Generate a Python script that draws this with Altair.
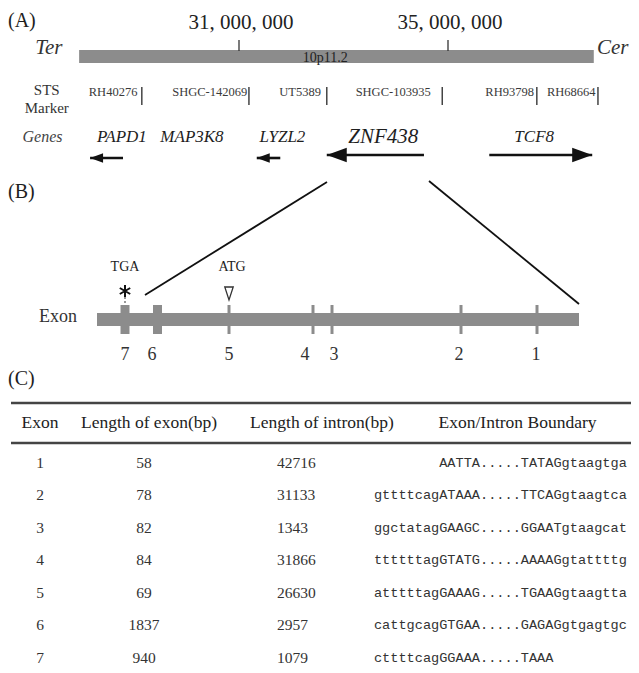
import altair as alt
import pandas as pd

# ---------------- data ----------------
# Panel A: chromosome 10p11.2 region (genomic positions in Mb)
chrom_band = "10p11.2"
chrom_start_mb = 27.94
chrom_end_mb = 37.79
band_label_mb = 32.65
scale_ticks_mb = [31, 35]
scale_tick_labels = ["31, 000, 000", "35, 000, 000"]
chrom_ends = ["Ter", "Cer"]
chrom_end_label_mb = [27.10, 37.85]

sts_markers = ["RH40276", "SHGC-142069", "UT5389", "SHGC-103935", "RH93798", "RH68664"]
sts_marker_mb = [29.14, 31.19, 32.68, 34.89, 36.70, 37.87]
sts_label_mb = [28.59, 30.44, 32.17, 33.95, 36.18, 37.36]

genes = ["PAPD1", "MAP3K8", "LYZL2", "ZNF438", "TCF8"]
gene_label_mb = [28.76, 30.10, 31.83, 33.76, 36.65]
arrow_genes = ["PAPD1", "LYZL2", "ZNF438", "TCF8"]
arrow_strand = ["-", "-", "-", "+"]
arrow_start_mb = [28.15, 31.34, 32.68, 35.79]
arrow_end_mb = [28.78, 31.79, 34.54, 37.76]

# Panel B / C: ZNF438 exons
exon_ids = [1, 2, 3, 4, 5, 6, 7]
exon_len = [58, 78, 82, 84, 69, 1837, 940]
intron_len = [42716, 31133, 1343, 31866, 26630, 2957, 1079]
boundary = [
    "AATTA.....TATAGgtaagtga",
    "gttttcagATAAA.....TTCAGgtaagtca",
    "ggctatagGAAGC.....GGAATgtaagcat",
    "ttttttagGTATG.....AAAAGgtattttg",
    "atttttagGAAAG.....TGAAGgtaagtta",
    "cattgcagGTGAA.....GAGAGgtgagtgc",
    "cttttcagGGAAA.....TAAA",
]
exon_map_pos = [537, 461, 332, 313, 229, 157.5, 125]     # diagram position (not to scale)
exon_label_pos = [536, 459, 334, 305, 229, 152, 125]
codons = ["TGA", "ATG"]
codon_exon = [7, 5]
headers = ["Exon", "Length of exon(bp)", "Length of intron(bp)", "Exon/Intron Boundary"]
panel_labels = ["(A)", "(B)", "(C)"]

# ---------------- layout ----------------
W, H = 623, 657
FONT = "Liberation Serif"
MONO = "Liberation Mono"
INK = "#1e1e1e"
GREY = "#8c8c8c"

px_x = alt.Scale(domain=[8, 631])
px_y = alt.Scale(domain=[8, 665], reverse=True)
mb_x = alt.Scale(domain=[26.57895, 38.50239])
row_y = alt.Scale(domain=[-13.034, 7.231], reverse=True)


def xq(f, s):
    return alt.X(f"{f}:Q", scale=s, axis=None)


def yq(f, s):
    return alt.Y(f"{f}:Q", scale=s, axis=None)


def txt(df, x, y, xs, ys, text="label", **mk):
    base = dict(font=FONT, color=INK, baseline="middle")
    base.update(mk)
    return alt.Chart(df).mark_text(**base).encode(
        x=xq(x, xs), y=yq(y, ys), text=f"{text}:N")


layers = []

# panel labels
layers.append(txt(pd.DataFrame({"label": panel_labels, "x": [8, 8, 8], "y": [21, 192, 379]}),
                  "x", "y", px_x, px_y, fontSize=20, align="left"))

# ---- Panel A ----
chrom = pd.DataFrame({"start": [chrom_start_mb], "end": [chrom_end_mb], "top": [50], "bot": [63],
                      "band": [chrom_band], "bx": [band_label_mb], "by": [58]})
layers.append(alt.Chart(chrom).mark_rect(color=GREY).encode(
    x=xq("start", mb_x), x2="end", y=yq("top", px_y), y2="bot"))
layers.append(txt(chrom, "bx", "by", mb_x, px_y, text="band", fontSize=14, color="#222"))

ticks = pd.DataFrame({"mb": scale_ticks_mb, "label": scale_tick_labels,
                      "y0": 40, "y1": 51, "ly": 23})
layers.append(alt.Chart(ticks).mark_rule(color="#333", strokeWidth=1.3).encode(
    x=xq("mb", mb_x), y=yq("y0", px_y), y2="y1"))
layers.append(txt(ticks, "mb", "ly", mb_x, px_y, fontSize=21, dx=2, color="#222"))

ends = pd.DataFrame({"label": chrom_ends, "mb": chrom_end_label_mb, "y": 48})
layers.append(txt(ends, "mb", "y", mb_x, px_y, fontSize=21, fontStyle="italic",
                  align="left", color="#333"))

sts_title = pd.DataFrame({"label": ["STS", "Marker"], "mb": [27.32, 27.32], "y": [90, 108]})
layers.append(txt(sts_title, "mb", "y", mb_x, px_y, fontSize=15, color="#333"))

sts = pd.DataFrame({"label": sts_markers, "mb": sts_marker_mb, "lmb": sts_label_mb,
                    "y0": 87, "y1": 105, "ly": 92})
layers.append(alt.Chart(sts).mark_rule(color="#444", strokeWidth=1.5).encode(
    x=xq("mb", mb_x), y=yq("y0", px_y), y2="y1"))
layers.append(txt(sts, "lmb", "ly", mb_x, px_y, fontSize=12.5, color="#3a3a3a"))

layers.append(txt(pd.DataFrame({"label": ["Genes"], "mb": [27.24], "y": [137]}),
                  "mb", "y", mb_x, px_y, fontSize=16, fontStyle="italic", color="#444"))
gdf = pd.DataFrame({"label": genes, "mb": gene_label_mb, "y": 137})
layers.append(alt.Chart(gdf).mark_text(font=FONT, fontStyle="italic", color=INK, baseline="middle").encode(
    x=xq("mb", mb_x), y=yq("y", px_y), text="label:N",
    size=alt.condition(alt.datum.label == "ZNF438", alt.value(21), alt.value(17))))

arrows = pd.DataFrame({"gene": arrow_genes, "strand": arrow_strand,
                       "start": arrow_start_mb, "end": arrow_end_mb})
arrows["y"] = [158, 158, 155, 155]
arrows["tip"] = [s if d == "-" else e for s, e, d in zip(arrows.start, arrows.end, arrows.strand)]
layers.append(alt.Chart(arrows).mark_rule(color="#111", strokeWidth=2.6).encode(
    x=xq("start", mb_x), x2="end", y=yq("y", px_y)))
big = (alt.datum.gene == "ZNF438") | (alt.datum.gene == "TCF8")
for strand, shape in [("-", "M0,0L2,-0.72L2,0.72Z"), ("+", "M0,0L-2,-0.72L-2,0.72Z")]:
    layers.append(alt.Chart(arrows).transform_filter(alt.datum.strand == strand).mark_point(
        shape=shape, filled=True, color="#111", opacity=1, strokeWidth=0).encode(
        x=xq("tip", mb_x), y=yq("y", px_y),
        size=alt.condition(big, alt.value(400), alt.value(169))))

# ---- Panel B ----
zoom = pd.DataFrame({"x0": [327, 429], "y0": [182, 181], "x1": [145, 579], "y1": [295, 304]})
layers.append(alt.Chart(zoom).mark_rule(color="#111", strokeWidth=1.8).encode(
    x=xq("x0", px_x), x2="x1", y=yq("y0", px_y), y2="y1"))

gene_bar = pd.DataFrame({"x0": [97], "x1": [579], "y0": [313], "y1": [326]})
layers.append(alt.Chart(gene_bar).mark_rect(color=GREY).encode(
    x=xq("x0", px_x), x2="x1", y=yq("y0", px_y), y2="y1"))

ex = pd.DataFrame({"exon": exon_ids, "len": exon_len, "pos": exon_map_pos,
                   "lpos": exon_label_pos, "y0": 305, "y1": 334, "ly": 355})
layers.append(alt.Chart(ex).transform_calculate(
    a="datum.pos - (datum.len > 500 ? 4.5 : 1.5)",
    b="datum.pos + (datum.len > 500 ? 4.5 : 1.5)").mark_rect(color=GREY).encode(
    x=xq("a", px_x), x2="b", y=yq("y0", px_y), y2="y1"))
layers.append(txt(ex, "lpos", "ly", px_x, px_y, text="exon", fontSize=18, color="#333"))
layers.append(txt(pd.DataFrame({"label": ["Exon"], "x": [58], "y": [317]}),
                  "x", "y", px_x, px_y, fontSize=18, color="#333"))

cod = pd.DataFrame({"label": codons, "exon": codon_exon})
cod["pos"] = [exon_map_pos[exon_ids.index(e)] for e in codon_exon]
cod["y"] = 267
cod["dx"] = [0, 3]
layers.append(alt.Chart(cod).mark_text(font=FONT, fontSize=14, color="#222", baseline="middle").encode(
    x=alt.X("px:Q", scale=px_x, axis=None), y=yq("y", px_y), text="label:N").transform_calculate(
    px="datum.pos + datum.dx"))

stop = cod[cod.label == "TGA"].copy()
stop["sy"] = 291
stop["d0"] = 297
stop["d1"] = 305
layers.append(alt.Chart(stop).mark_point(
    shape="M0,-1L0,1M-0.87,-0.5L0.87,0.5M-0.87,0.5L0.87,-0.5",
    filled=False, stroke="#111", strokeWidth=2, size=144, opacity=1).encode(
    x=xq("pos", px_x), y=yq("sy", px_y)))
layers.append(alt.Chart(stop).mark_rule(color="#555", strokeWidth=1.2, strokeDash=[2, 2]).encode(
    x=xq("pos", px_x), y=yq("d0", px_y), y2="d1"))

start = cod[cod.label == "ATG"].copy()
start["ty"] = 293.5
layers.append(alt.Chart(start).mark_point(
    shape="M-0.65,-1L0.65,-1L0,1Z", filled=False, stroke="#333", strokeWidth=1.3,
    size=169, opacity=1).encode(x=xq("pos", px_x), y=yq("ty", px_y)))

# ---- Panel C: table ----
rules = pd.DataFrame({"x0": [11, 11], "x1": [640, 640], "y": [403, 443]})
layers.append(alt.Chart(rules).mark_rule(color="#444", strokeWidth=2.6).encode(
    x=xq("x0", px_x), x2="x1", y=yq("y", px_y)))
hdr = pd.DataFrame({"label": headers, "x": [40, 149, 322, 517.5], "y": 423})
layers.append(txt(hdr, "x", "y", px_x, px_y, fontSize=17.5, color="#222"))

tab = pd.DataFrame({"exon": [str(e) for e in exon_ids],
                    "elen": [str(v) for v in exon_len],
                    "ilen": [str(v) for v in intron_len],
                    "left": [b.split(".....")[0] for b in boundary],
                    "right": ["....." + b.split(".....")[1] for b in boundary],
                    "row": exon_ids})
tab["c1"], tab["c2"], tab["c3"], tab["c4"] = 40, 144, 277, 480
layers.append(txt(tab, "c1", "row", px_x, row_y, text="exon", fontSize=15.5, color="#333"))
layers.append(txt(tab, "c2", "row", px_x, row_y, text="elen", fontSize=15.5, color="#333"))
layers.append(txt(tab, "c3", "row", px_x, row_y, text="ilen", fontSize=15.5, color="#333", align="left"))
layers.append(txt(tab, "c4", "row", px_x, row_y, text="left", font=MONO, fontSize=13.6,
                  color="#333", align="right"))
layers.append(txt(tab, "c4", "row", px_x, row_y, text="right", font=MONO, fontSize=13.6,
                  color="#333", align="left"))

chart = alt.layer(*layers).resolve_scale(x="independent", y="independent").properties(
    width=W, height=H, padding=0, background="white",
    autosize=alt.AutoSizeParams(type="none")).configure_view(stroke=None)

chart.save("out.html", embed_options={"renderer": "svg", "actions": False})
